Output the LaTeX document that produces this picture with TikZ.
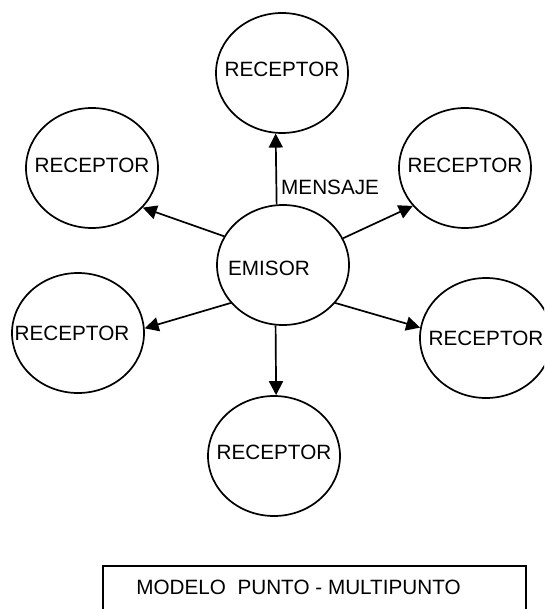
\documentclass[tikz,border=0pt]{standalone}
\usepackage{fontspec}
\setmainfont{Liberation Sans}
\usetikzlibrary{shapes.geometric,arrows.meta}
\newcommand{\lift}[2]{\raisebox{#1}[\height][\depth]{#2}}
\begin{document}
\begin{tikzpicture}[x=1pt,y=-1pt,
  txt/.style={font=\fontsize{20.7}{24}\selectfont},
  bub/.style={draw, line width=1.7pt, ellipse, minimum width=132pt, minimum height=120pt, inner sep=0pt, txt},
  msg/.style={line width=1.7pt, -{Triangle[length=14pt,width=14pt]}},
]
\useasboundingbox (0,0) rectangle (544,609);
\clip (0,0) rectangle (544,609);
\node[bub] (top) at (282,73) {\makebox[0pt]{\lift{3.5pt}{RECEPTOR}}};
\node[bub] (ul) at (92,168) {\makebox[0pt]{\lift{3pt}{RECEPTOR}}};
\node[bub] (ur) at (465,168) {\makebox[0pt]{\lift{3pt}{RECEPTOR}}};
\node[bub] (em) at (283,265) {\makebox[0pt]{\lift{-3pt}{EMISOR}\hspace*{28pt}}};
\node[bub] (ll) at (78,333) {\makebox[0pt]{RECEPTOR\hspace*{12pt}}};
\node[bub] (lr) at (486,338) {\makebox[0pt]{RECEPTOR}};
\node[bub] (bot) at (274,456) {\makebox[0pt]{\lift{3.5pt}{RECEPTOR}}};

\draw[msg] (em.96.5) -- (top.264);
\draw[msg] (em.154) -- (ul.-38);
\draw[msg] (em.24.5) -- (ur.216);
\draw[msg] (em.216) -- (ll.4);
\draw[msg] (em.-36) -- (lr.171);
\draw[msg] (em.263) -- (bot.88);

\node[txt, anchor=west, inner sep=0pt] (lab) at (281,187) {MENSAJE};

\node[draw, line width=1.7pt, anchor=north west, minimum width=423pt, minimum height=50pt, inner sep=0pt] (box) at (102,565) {};
\node[txt, inner sep=0pt] (title) at (298.5,587) {MODELO\ \ PUNTO - MULTIPUNTO};
\end{tikzpicture}
\end{document}
